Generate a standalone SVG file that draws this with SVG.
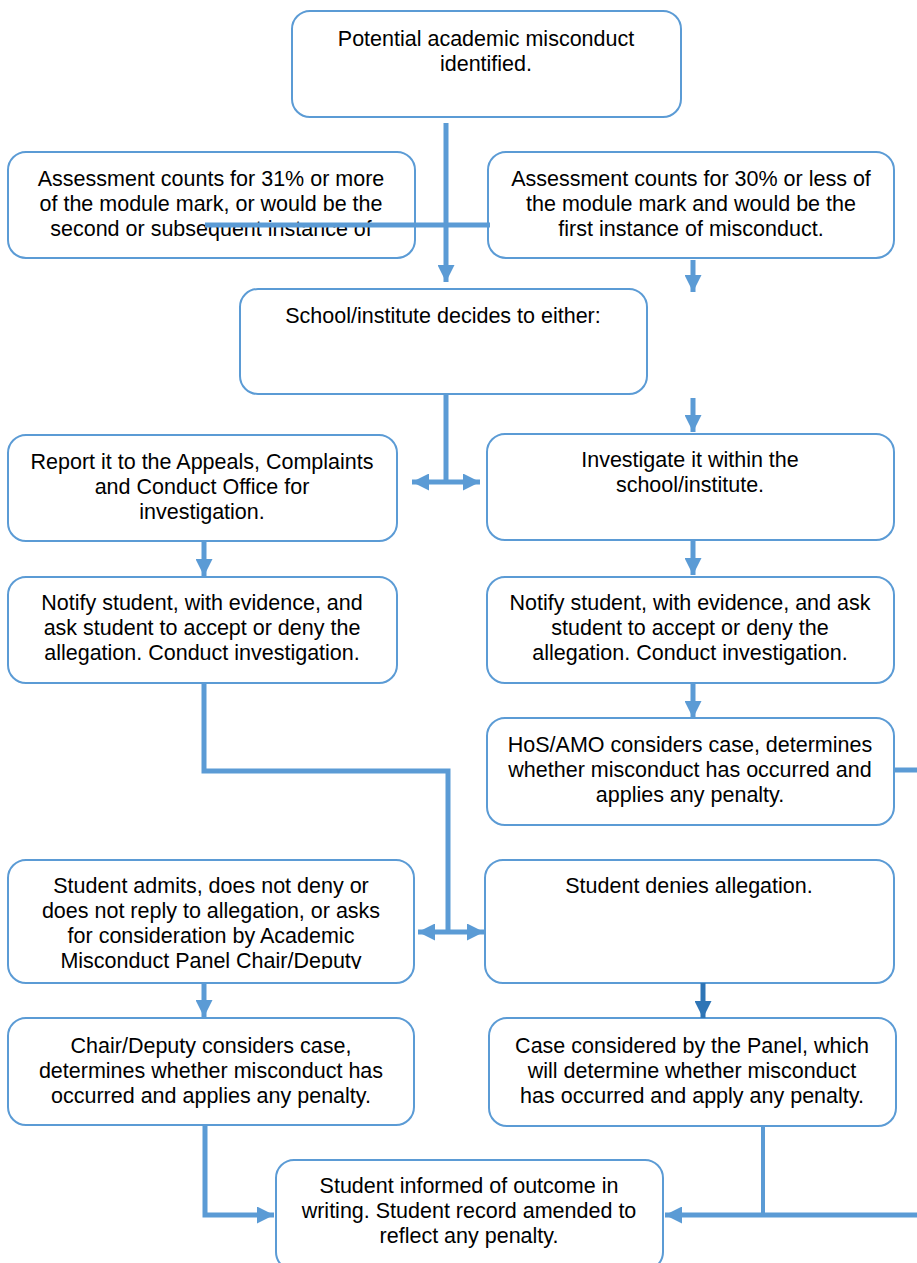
<svg xmlns="http://www.w3.org/2000/svg" width="917" height="1263" viewBox="0 0 917 1263">
<style>
.box{fill:#fff;stroke:#5B9BD5;stroke-width:2}
.t{font-family:"Liberation Sans",Arial,sans-serif;font-size:21.5px;fill:#000;text-anchor:middle}
.c{fill:none;stroke:#5B9BD5;stroke-width:5}
.a{marker-end:url(#ah)}
.d{marker-start:url(#ah);marker-end:url(#ah)}
</style>
<defs>
<marker id="ah" viewBox="0 0 10 10" refX="10" refY="5" markerWidth="18" markerHeight="17" markerUnits="userSpaceOnUse" orient="auto-start-reverse">
<path d="M0,0 L10,5 L0,10 z" fill="#5B9BD5"/>
</marker>
<marker id="ahd" viewBox="0 0 10 10" refX="10" refY="5" markerWidth="18" markerHeight="17" markerUnits="userSpaceOnUse" orient="auto">
<path d="M0,0 L10,5 L0,10 z" fill="#2E75B6"/>
</marker>
<clipPath id="clipA"><rect x="8" y="152" width="407" height="95"/></clipPath>
<clipPath id="clipB"><rect x="8" y="860" width="407" height="109"/></clipPath>
</defs>

<g id="n1"><rect class="box" x="292" y="11" width="389" height="106" rx="18"/>
<text class="t" x="486" y="46">Potential academic misconduct</text>
<text class="t" x="486" y="71">identified.</text></g>

<g id="n2"><rect class="box" x="8" y="152" width="407" height="106" rx="18"/>
<g clip-path="url(#clipA)">
<text class="t" x="211" y="186">Assessment counts for 31% or more</text>
<text class="t" x="211" y="211">of the module mark, or would be the</text>
<text class="t" x="211" y="236">second or subsequent instance of</text>
</g></g>

<g id="n3"><rect class="box" x="488" y="152" width="406" height="106" rx="18"/>
<text class="t" x="691" y="186">Assessment counts for 30% or less of</text>
<text class="t" x="691" y="211">the module mark and would be the</text>
<text class="t" x="691" y="236">first instance of misconduct.</text></g>

<g id="n4"><rect class="box" x="240" y="289" width="407" height="105" rx="18"/>
<text class="t" x="443" y="323">School/institute decides to either:</text></g>

<g id="n5"><rect class="box" x="8" y="435" width="389" height="106" rx="18"/>
<text class="t" x="202" y="469">Report it to the Appeals, Complaints</text>
<text class="t" x="202" y="494">and Conduct Office for</text>
<text class="t" x="202" y="519">investigation.</text></g>

<g id="n6"><rect class="box" x="487" y="434" width="407" height="106" rx="18"/>
<text class="t" x="690" y="467">Investigate it within the</text>
<text class="t" x="690" y="492">school/institute.</text></g>

<g id="n7"><rect class="box" x="8" y="577" width="389" height="106" rx="18"/>
<text class="t" x="202" y="610">Notify student, with evidence, and</text>
<text class="t" x="202" y="635">ask student to accept or deny the</text>
<text class="t" x="202" y="660">allegation. Conduct investigation.</text></g>

<g id="n8"><rect class="box" x="487" y="577" width="407" height="106" rx="18"/>
<text class="t" x="690" y="610">Notify student, with evidence, and ask</text>
<text class="t" x="690" y="635">student to accept or deny the</text>
<text class="t" x="690" y="660">allegation. Conduct investigation.</text></g>

<g id="n9"><rect class="box" x="487" y="718" width="407" height="107" rx="18"/>
<text class="t" x="690" y="752">HoS/AMO considers case, determines</text>
<text class="t" x="690" y="777">whether misconduct has occurred and</text>
<text class="t" x="690" y="802">applies any penalty.</text></g>

<g id="n10"><rect class="box" x="8" y="860" width="406" height="123" rx="18"/>
<g clip-path="url(#clipB)">
<text class="t" x="211" y="893">Student admits, does not deny or</text>
<text class="t" x="211" y="918">does not reply to allegation, or asks</text>
<text class="t" x="211" y="943">for consideration by Academic</text>
<text class="t" x="211" y="968">Misconduct Panel Chair/Deputy</text>
</g></g>

<g id="n11"><rect class="box" x="485" y="860" width="409" height="123" rx="18"/>
<text class="t" x="689" y="893">Student denies allegation.</text></g>

<g id="n12"><rect class="box" x="8" y="1018" width="406" height="107" rx="18"/>
<text class="t" x="211" y="1053">Chair/Deputy considers case,</text>
<text class="t" x="211" y="1078">determines whether misconduct has</text>
<text class="t" x="211" y="1103">occurred and applies any penalty.</text></g>

<g id="n13"><rect class="box" x="489" y="1018" width="407" height="108" rx="18"/>
<text class="t" x="692" y="1053">Case considered by the Panel, which</text>
<text class="t" x="692" y="1078">will determine whether misconduct</text>
<text class="t" x="692" y="1103">has occurred and apply any penalty.</text></g>

<g id="n14"><rect class="box" x="276" y="1160" width="387" height="110" rx="18"/>
<text class="t" x="469" y="1193">Student informed of outcome in</text>
<text class="t" x="469" y="1218">writing. Student record amended to</text>
<text class="t" x="469" y="1243">reflect any penalty.</text></g>

<g id="connectors">
<path class="c a" d="M446,123 L446,282"/>
<path class="c" d="M205,225 L490,225"/>
<path class="c a" d="M693,260 L693,292"/>
<path class="c" d="M446,394 L446,482"/>
<path class="c d" d="M412,482 L480,482"/>
<path class="c a" d="M693,398 L693,432"/>
<path class="c a" d="M204,541 L204,576"/>
<path class="c a" d="M693,540 L693,575"/>
<path class="c a" d="M693,683 L693,718"/>
<path class="c" d="M894,770 L917,770"/>
<path class="c" d="M204,683 L204,771 L448,771 L448,932"/>
<path class="c d" d="M418,932 L484,932"/>
<path class="c a" d="M204,983 L204,1017"/>
<path class="c" style="stroke:#2E75B6;marker-end:url(#ahd)" d="M703,983 L703,1018"/>
<path class="c a" d="M205,1125 L205,1215 L274,1215"/>
<path class="c" style="stroke-width:4" d="M763,1125 L763,1215"/>
<path class="c a" d="M917,1215 L665,1215"/>
</g>
</svg>
